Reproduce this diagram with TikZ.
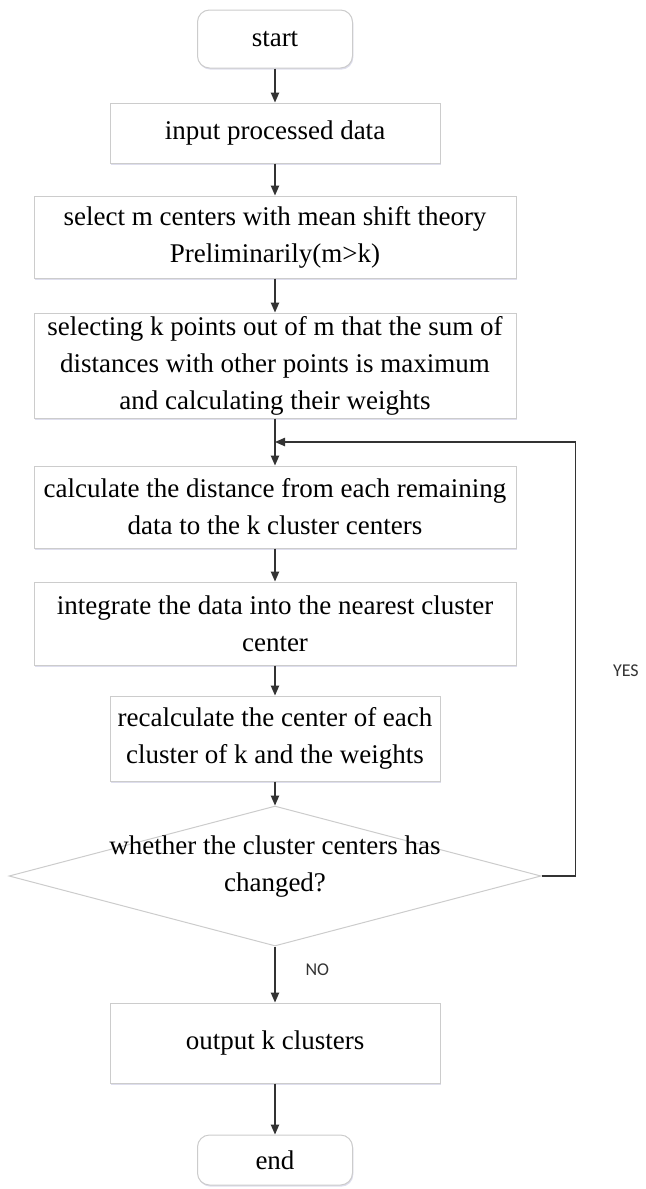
\documentclass[tikz,border=0pt]{standalone}
\usepackage{fontspec}
\setmainfont{Liberation Serif}
\newfontfamily\yesnofont{Carlito}
\usetikzlibrary{arrows.meta,positioning,calc,shapes.geometric,shadows}

\begin{document}
\begin{tikzpicture}[x=0.5pt, y=0.5pt, >={Triangle[length=5pt,width=4.2pt]},
  font=\fontsize{13.5}{18.5}\selectfont,
  box/.style={draw=gray!40, line width=0.5pt, fill=white, align=center, inner sep=1pt,
    drop shadow={shadow xshift=0.4pt, shadow yshift=-0.8pt, fill=blue!30!gray, opacity=0.2}},
  term/.style={box, rounded corners=6pt, minimum width=77.5pt},
  decision/.style={diamond, draw=gray!40, line width=0.5pt, fill=white, inner sep=0pt,
    minimum width=266pt, minimum height=70pt},
  flow/.style={->, line width=0.6pt, black!80},
  lbl/.style={font=\yesnofont\fontsize{9}{11}\selectfont, inner sep=0pt}]
\useasboundingbox (0,0) rectangle (646,-1189);

% main column
\node[term, minimum height=29pt] (start) at (275,-39) {start};
\node[box, minimum width=165pt, minimum height=30pt, below=17pt of start] (input) {input processed data};
\node[box, minimum width=241pt, minimum height=41pt, below=16pt of input] (select) {select m centers with mean shift theory\\Preliminarily(m>k)};
\node[box, minimum width=241pt, minimum height=52.5pt, below=17pt of select] (pick) {selecting k points out of m that the sum of\\distances with other points is maximum\\and calculating their weights};
\node[box, minimum width=241pt, minimum height=41pt, below=23.5pt of pick] (dist) {calculate the distance from each remaining\\data to the k cluster centers};
\node[box, minimum width=241pt, minimum height=41.5pt, below=16.5pt of dist] (assign) {integrate the data into the nearest cluster\\center};
\node[box, minimum width=165pt, minimum height=42.5pt, below=15pt of assign] (update) {recalculate the center of each\\cluster of k and the weights};
\node[decision, below=12pt of update] (changed) {};
\node[align=center, inner sep=0pt] (changedtxt) at ($(changed.center)+(0,9)$) {whether the cluster centers has\\changed?};
\node[box, minimum width=165pt, minimum height=40pt, below=28pt of changed] (output) {output k clusters};
\node[term, minimum height=25pt, below=25.5pt of output] (end) {end};

% connectors
\coordinate (join) at ($(pick.south)!0.5!(dist.north)$);
\draw[flow] (start) -- (input);
\draw[flow] (input) -- (select);
\draw[flow] (select) -- (pick);
\draw[flow] (pick) -- (dist);
\draw[flow] (dist) -- (assign);
\draw[flow] (assign) -- (update);
\draw[flow] (update) -- (changed);
\draw[flow] (changed.east) -- ++(34,0) coordinate (turn) |- node[lbl, pos=0.236, right=18.5pt] (yes) {YES} (join);
\draw[flow] (changed) -- node[lbl, pos=0.42, right=15pt] (no) {NO} (output);
\draw[flow] (output) -- (end);
\end{tikzpicture}
\end{document}
